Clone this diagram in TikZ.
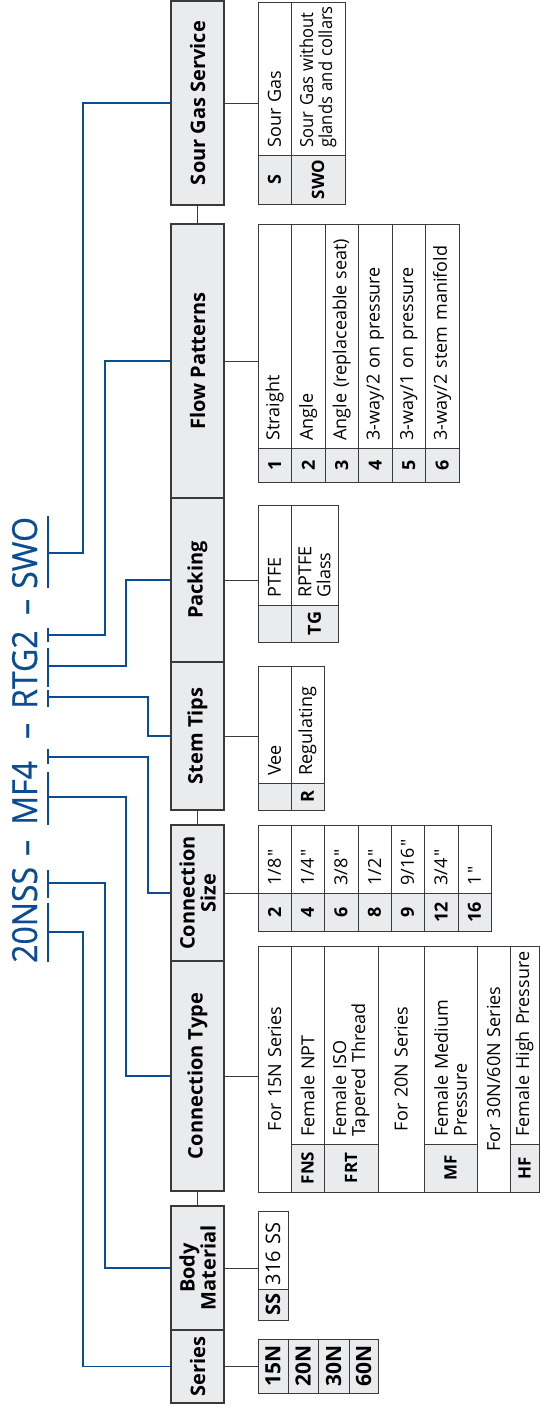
\documentclass[tikz,border=0pt]{standalone}
\usepackage{fontspec}
\setmainfont{Open Sans}[Ligatures=TeXOff]
\newfontfamily\ttlfont{Open Sans}[FakeBold=0.5]
\definecolor{bl}{HTML}{0B4C93}
\definecolor{hfill}{HTML}{EAEBEC}
\definecolor{ln}{HTML}{3A3A3A}
\newcommand\hd[4]{%
  \pgfmathsetmacro\dcY{(#2+#3)/2}\pgfmathsetmacro\dcL{#3-#2}%
  \node[hdr, minimum width=\dcL pt] (#1) at (197.5,\dcY) {#4};}
\newcommand\dc[7][]{%
  \pgfmathsetmacro\dcX{(#3+#4)/2}\pgfmathsetmacro\dcY{(#5+#6)/2}%
  \pgfmathsetmacro\dcL{#6-#5}\pgfmathsetmacro\dcW{#4-#3}\pgfmathsetmacro\dcT{#6-#5-15}%
  \node[cell, minimum width=\dcL pt, minimum height=\dcW pt, text width=\dcT pt, align=left, #1] (#2) at (\dcX,\dcY) {#7};}
\newcommand\cc[7][]{%
  \pgfmathsetmacro\dcX{(#3+#4)/2}\pgfmathsetmacro\dcY{(#5+#6)/2}%
  \pgfmathsetmacro\dcL{#6-#5}\pgfmathsetmacro\dcW{#4-#3}%
  \node[code, minimum width=\dcL pt, minimum height=\dcW pt, #1] (#2) at (\dcX,\dcY) {#7};}
\newcommand\qt{\kern1.5pt"}
\begin{document}
\begin{tikzpicture}[x=1pt,y=-1pt,
  hdr/.style={draw=ln, line width=1.1pt, fill=hfill, rotate=90, inner sep=0pt,
    font=\fontsize{20}{21}\selectfont\bfseries, align=center, minimum height=53pt},
  cell/.style={draw=ln, line width=1pt, rotate=90, inner sep=0pt,
    font=\fontsize{18}{19}\selectfont},
  code/.style={cell, fill=hfill, font=\fontsize{18}{18}\selectfont\bfseries, align=center},
  conn/.style={draw=ln, line width=1pt},
  bconn/.style={draw=bl, line width=1.8pt},
  ttl/.style={text=bl, font=\fontsize{32}{32}\ttlfont, rotate=90, yscale=1.08,
    anchor=base west, inner sep=0pt},
]
\useasboundingbox (0,0) rectangle (540,1409);
% title
\node[ttl] (t1) at (37,963) {20NSS};
\node[ttl] (t2) at (37,856) {–};
\node[ttl] (t3) at (37,825) {MF4};
\node[ttl] (t4) at (37,739) {–};
\node[ttl] (t5) at (37,709) {RTG2};
\node[ttl] (t6) at (37,615) {–};
\node[ttl] (t7) at (37,589) {SWO};
% underline bars
\foreach \a/\b in {903/962, 870/898, 772/825, 749/764, 690/707, 648/687, 628/642, 516/588}
  \draw[bconn] (48,\a) -- (48,\b);
\coordinate (u20n) at (48,932);
\coordinate (uss) at (48,883);
\coordinate (umf) at (48,797);
\coordinate (ufour) at (48,757);
\coordinate (ur) at (48,697);
\coordinate (utg) at (48,666);
\coordinate (utwo) at (48,635);
\coordinate (uswo) at (48,553);
% headers
\hd{sg}{1}{205}{Sour Gas Service}
\hd{fp}{224}{498}{Flow Patterns}
\hd{pk}{498}{662}{Packing}
\hd{st}{662}{810}{Stem Tips}
\hd{cs}{825}{961}{Connection\\Size}
\hd{ct}{961}{1191}{Connection Type}
\hd{bm}{1206}{1330}{Body\\Material}
\hd{se}{1330}{1403}{Series}
% Sour gas table
\dc{sg1d}{258}{291}{2}{155}{Sour Gas}
\cc{sg1c}{258}{291}{155}{204}{S}
\dc{sg2d}{291}{345}{2}{155}{\scalebox{0.92}[1]{Sour Gas without}\\\scalebox{0.92}[1]{glands and collars}}
\cc[font=\fontsize{17}{17}\selectfont\bfseries]{sg2c}{291}{345}{155}{204}{SWO}
% Flow patterns
\dc{fp1d}{258}{291.5}{224}{448}{Straight}
\cc{fp1c}{258}{291.5}{448}{482}{1}
\dc{fp2d}{291.5}{325}{224}{448}{Angle}
\cc{fp2c}{291.5}{325}{448}{482}{2}
\dc{fp3d}{325}{358.5}{224}{448}{Angle (replaceable seat)}
\cc{fp3c}{325}{358.5}{448}{482}{3}
\dc{fp4d}{358.5}{392}{224}{448}{3-way/2 on pressure}
\cc{fp4c}{358.5}{392}{448}{482}{4}
\dc{fp5d}{392}{425.5}{224}{448}{3-way/1 on pressure}
\cc{fp5c}{392}{425.5}{448}{482}{5}
\dc{fp6d}{425.5}{459}{224}{448}{3-way/2 stem manifold}
\cc{fp6c}{425.5}{459}{448}{482}{6}
% Packing
\dc{pk1d}{258}{291}{505}{605}{PTFE}
\cc{pk1c}{258}{291}{605}{642}{}
\dc{pk2d}{291}{338}{505}{605}{RPTFE\\Glass}
\cc{pk2c}{291}{338}{605}{642}{TG}
% Stem tips
\dc{st1d}{258}{291}{666}{783}{Vee}
\cc{st1c}{258}{291}{783}{810}{}
\dc{st2d}{291}{324}{666}{783}{Regulating}
\cc{st2c}{291}{324}{783}{810}{R}
% Connection size
\dc{cs1d}{258}{291}{825}{893}{1/8\qt}
\cc{cs1c}{258}{291}{893}{931}{2}
\dc{cs2d}{291}{324}{825}{893}{1/4\qt}
\cc{cs2c}{291}{324}{893}{931}{4}
\dc{cs3d}{324}{358}{825}{893}{3/8\qt}
\cc{cs3c}{324}{358}{893}{931}{6}
\dc{cs4d}{358}{391}{825}{893}{1/2\qt}
\cc{cs4c}{358}{391}{893}{931}{8}
\dc{cs5d}{391}{424}{825}{893}{9/16\qt}
\cc{cs5c}{391}{424}{893}{931}{9}
\dc{cs6d}{424}{458}{825}{893}{3/4\qt}
\cc{cs6c}{424}{458}{893}{931}{12}
\dc{cs7d}{458}{491}{825}{893}{1\qt}
\cc{cs7c}{458}{491}{893}{931}{16}
% Connection type
\dc[align=center]{ct1}{258}{291}{946}{1192}{For 15N Series}
\dc{ct2d}{291}{324}{946}{1144}{Female NPT}
\cc[font=\fontsize{17}{17}\selectfont\bfseries]{ct2c}{291}{324}{1144}{1192}{FNS}
\dc{ct3d}{324}{378}{946}{1144}{Female ISO\\Tapered Thread}
\cc[font=\fontsize{17}{17}\selectfont\bfseries]{ct3c}{324}{378}{1144}{1192}{FRT}
\dc[align=center]{ct4}{378}{424}{946}{1192}{For 20N Series}
\dc{ct5d}{424}{477}{946}{1144}{Female Medium\\Pressure}
\cc[font=\fontsize{17}{17}\selectfont\bfseries]{ct5c}{424}{477}{1144}{1192}{MF}
\dc[align=center]{ct6}{477}{510}{946}{1192}{For 30N/60N Series}
\dc{ct7d}{510}{539}{946}{1144}{\mbox{Female High Pressure}}
\cc[font=\fontsize{17}{17}\selectfont\bfseries]{ct7c}{510}{539}{1144}{1192}{HF}
% Body material
\dc[text width=70pt, font=\fontsize{20}{20}\selectfont]{bm1d}{258}{288}{1211}{1289}{316 SS}
\cc[font=\fontsize{20}{20}\selectfont\bfseries]{bm1c}{258}{288}{1289}{1320}{SS}
% Series
\cc[font=\fontsize{21}{21}\selectfont\bfseries]{se1}{258}{288}{1339}{1393}{15N}
\cc[font=\fontsize{21}{21}\selectfont\bfseries]{se2}{288}{318}{1339}{1393}{20N}
\cc[font=\fontsize{21}{21}\selectfont\bfseries]{se3}{318}{349}{1339}{1393}{30N}
\cc[font=\fontsize{21}{21}\selectfont\bfseries]{se4}{349}{378}{1339}{1393}{60N}
% gray connectors
\draw[conn] (sg.west) -- (fp.east);
\draw[conn] (st.west) -- (cs.east);
\draw[conn] (ct.west) -- (bm.east);
\draw[conn] (sg.south) -- (sg.south -| sg1d.north);
\draw[conn] (fp.south) -- (fp.south -| fp1d.north);
\draw[conn] (pk.south) -- (pk.south -| pk1d.north);
\draw[conn] (st.south) -- (st.south -| st1d.north);
\draw[conn] (cs.south) -- (cs.south -| cs1d.north);
\draw[conn] (ct.south) -- (ct.south -| ct1.north);
\draw[conn] (bm.south) -- (bm.south -| bm1d.north);
\draw[conn] (se.south) -- (se.south -| se1.north);
% blue connectors
\draw[bconn] (u20n) -- ++(35,0) |- (se.north);
\draw[bconn] (uss) -- ++(57,0) |- (bm.north);
\draw[bconn] (umf) -- ++(78,0) |- (ct.north);
\draw[bconn] (ufour) -- ++(100,0) |- (cs.north);
\draw[bconn] (ur) -- ++(100,0) |- (st.north);
\draw[bconn] (utg) -- ++(78,0) |- (pk.north);
\draw[bconn] (utwo) -- ++(57,0) |- (fp.north);
\draw[bconn] (uswo) -- ++(35,0) |- (sg.north);
\end{tikzpicture}
\end{document}
